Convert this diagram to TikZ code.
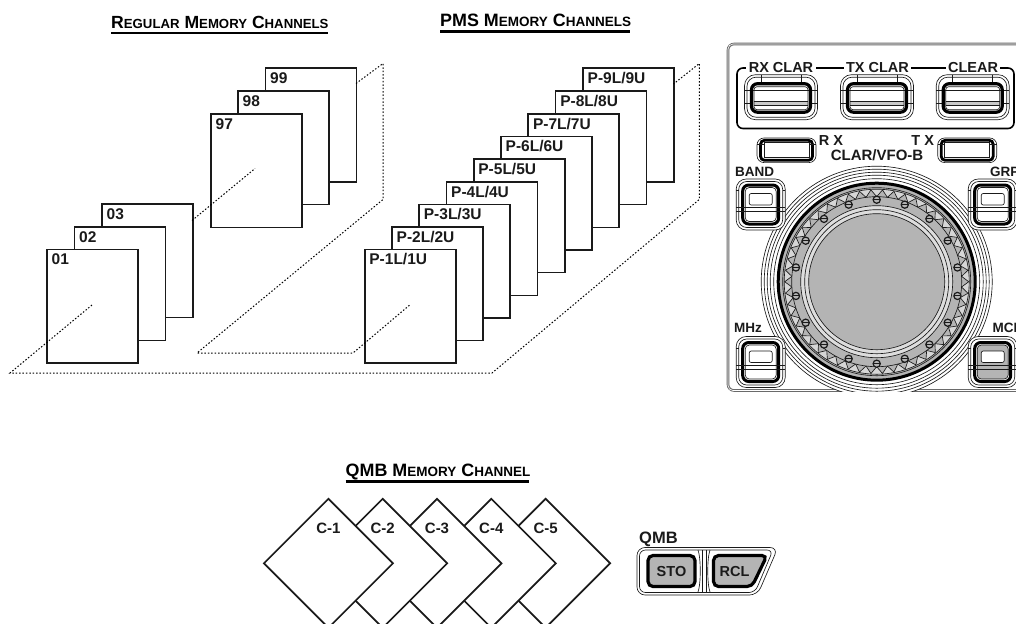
\documentclass[tikz,border=0pt]{standalone}
\usepackage{fontspec}
\setmainfont{Liberation Sans}
\usetikzlibrary{calc}
\definecolor{ink}{HTML}{1A1A1A}
\definecolor{btn}{HTML}{B4B4B4}
\tikzset{
  card/.style={draw=ink,fill=white,line width=1.8pt,minimum width=91pt,minimum height=113.5pt,inner sep=0pt,anchor=north west},
  cardtext/.style={anchor=north west,inner sep=0pt,font=\fontsize{15.5}{16}\bfseries,text=ink},
  diam/.style={draw=ink,fill=white,line width=1.7pt},
  dots/.style={line width=1pt,dash pattern=on 1.5pt off 1.9pt,draw=black},
  titlerule/.style={line width=2.2pt,draw=black},
  paneltext/.style={inner sep=0pt,font=\fontsize{14.5}{15}\bfseries,text=ink},
  keytext/.style={inner sep=0pt,anchor=west,font=\fontsize{13.5}{14}\bfseries,text=ink},
  thinline/.style={line width=0.65pt,draw=ink},
}
\newcommand{\capL}[1]{{\fontsize{\capA}{\capA}\selectfont #1}}
\newcommand{\capS}[1]{{\fontsize{\capB}{\capB}\selectfont #1}}
\newcommand{\bigbtn}[2]{%
  \draw[thinline,fill=white,rounded corners=11pt] (#1-36.5,#2-22.5) rectangle (#1+36.5,#2+22.5);
  \draw[thinline,rounded corners=9pt] (#1-34,#2-20) rectangle (#1+34,#2+20);
  \draw[thinline] (#1-36.5,#2-7) -- (#1+36.5,#2-7) (#1-36.5,#2+6) -- (#1-30,#2+6) (#1+30,#2+6) -- (#1+36.5,#2+6);
  \draw[thinline] (#1-20,#2-22.5) -- (#1-20,#2-13) (#1+20,#2-22.5) -- (#1+20,#2-13);
  \draw[line width=3.2pt,draw=black,rounded corners=6pt] (#1-29.5,#2-13.5) rectangle (#1+29.5,#2+15);
  \fill[btn!70!white] (#1-27,#2+4.5) rectangle (#1+27,#2+8);
  \draw[thinline] (#1-27,#2+4.5) -- (#1+27,#2+4.5) (#1-27,#2+8) -- (#1+27,#2+8);
  \draw[thinline,rounded corners=3pt] (#1-27,#2-10.5) rectangle (#1+27,#2+12.5);
}
\newcommand{\slimbtn}[2]{%
  \draw[thinline,fill=white,rounded corners=7pt] (#1-29.5,#2-12.3) rectangle (#1+29.5,#2+12.3);
  \draw[line width=2.8pt,draw=black,rounded corners=4pt] (#1-26,#2-10) rectangle (#1+26,#2+10);
  \draw[thinline] (#1-22.5,#2-7.5) rectangle (#1+22.5,#2+7.5);
  \draw[thinline] (#1-29.5,#2-6) -- (#1-22.5,#2-6) (#1+22.5,#2-6) -- (#1+29.5,#2-6);
}
\newcommand{\sqbtn}[3]{%
  \draw[thinline,fill=white,rounded corners=10pt] (#1-24.5,#2-25.5) rectangle (#1+24.5,#2+25.5);
  \draw[thinline,rounded corners=8pt] (#1-22,#2-23) rectangle (#1+22,#2+23);
  \draw[thinline] (#1-22,#2-14) -- (#1-24.5,#2-14) (#1+22,#2-14) -- (#1+24.5,#2-14);
  \draw[line width=3pt,draw=black,rounded corners=6pt] (#1-18,#2-19.5) rectangle (#1+18,#2+19.5);
  \draw[thinline,fill=#3,rounded corners=4pt] (#1-15.5,#2-17) rectangle (#1+15.5,#2+17);
  \fill[white,rounded corners=2pt] (#1-11.5,#2-11) rectangle (#1+11.5,#2+0.5);
  \draw[thinline,rounded corners=2pt] (#1-11.5,#2-11) rectangle (#1+11.5,#2+0.5);
  \draw[thinline] (#1-24.5,#2+3) -- (#1+24.5,#2+3) (#1-24.5,#2+7) -- (#1+24.5,#2+7);
}
\begin{document}
\begin{tikzpicture}[x=1pt,y=-1pt]
\useasboundingbox (0,0) rectangle (1016,623);
\fill[white] (0,0) rectangle (1016,623);

% ---- titles
\def\capA{17.6}\def\capB{13.2}
\node[anchor=base west,inner sep=0pt,font=\bfseries] (tReg) at (111,29) {\capL{R}\capS{EGULAR}\capL{ M}\capS{EMORY}\capL{ C}\capS{HANNELS}};
\draw[titlerule] (111,33) -- (328,33);
\def\capA{17.9}\def\capB{13.5}
\node[anchor=base west,inner sep=0pt,font=\bfseries] (tPms) at (440,26.5) {\capL{PMS M}\capS{EMORY}\capL{ C}\capS{HANNELS}};
\draw[titlerule] (440,31.5) -- (630,31.5);
\node[anchor=base west,inner sep=0pt,font=\bfseries] (tQmb) at (345.5,476.5) {\capL{QMB M}\capS{EMORY}\capL{ C}\capS{HANNEL}};
\draw[titlerule] (345.5,481.5) -- (529,481.5);

% ---- regular cards, far to near
\foreach \n/\x/\y in {03/101/203,02/73.5/226,01/46/248.5}{
  \node[card] (c\n) at (\x,\y) {};
  \node[cardtext] (l\n) at ($(c\n.north west)+(5.5,5)$) {\n};
}
\foreach \n/\x/\y in {99/264.5/67.5,98/237/90,97/210/113}{
  \node[card] (c\n) at (\x,\y) {};
  \node[cardtext] (l\n) at ($(c\n.north west)+(5.5,5)$) {\n};
}
% ---- PMS cards, far to near
\foreach \k/\x/\y in {9/582/67.5,8/554.6/90,7/527.3/113,6/500/135.5,5/472.7/158,4/445.5/181,3/418.2/203.5,2/391/226,1/363.7/248.5}{
  \node[card] (p\k) at (\x,\y) {};
  \node[cardtext] (lp\k) at ($(p\k.north west)+(5.5,5)$) {P-\k L/\k U};
}

% ---- dotted frames
\coordinate (a) at (10,373);
\coordinate (b) at (492,373);
\coordinate (c) at (699.3,199.5);
\coordinate (d) at (699.3,63.5);
\coordinate (e) at (673.5,84);
\coordinate (f) at (92,305);
\coordinate (g) at (192,220.5);
\coordinate (h) at (255,168.5);
\coordinate (i) at (356,83.5);
\coordinate (j) at (383,63.5);
\coordinate (k) at (383,199.5);
\coordinate (l) at (197,353);
\coordinate (m) at (353,353);
\coordinate (n) at (409.7,305);
\draw[dots] (f) -- (a) -- (b) -- (c) -- (d) -- (e);
\draw[dots] (g) -- (h);
\draw[dots] (i) -- (j) -- (k) -- (l) -- (m) -- (n);

% ---- QMB diamonds (clipped by the page)
\begin{scope}
\clip (0,0) rectangle (1016,623);
\foreach \k/\cx in {5/545.6,4/491.3,3/437,2/382.7,1/328.4}{
  \draw[diam] (\cx-64.5,563.3) -- (\cx,498.8) -- (\cx+64.5,563.3) -- (\cx,627.8) -- cycle;
  \node[inner sep=0pt,font=\fontsize{15}{15}\bfseries,text=ink] (cl\k) at (\cx,528.5) {C-\k};
}
\end{scope}

% ---- QMB button
\node[anchor=base west,inner sep=0pt,font=\fontsize{16.5}{17}\bfseries,text=ink] (qmb) at (639,543.5) {QMB};
\draw[thinline,fill=white,rounded corners=8pt] (637,547.5) -- (778,547.5) -- (757.5,595) -- (637,595) -- cycle;
\draw[thinline,rounded corners=6pt] (639.5,550) -- (773,550) -- (755,592.5) -- (639.5,592.5) -- cycle;
\draw[line width=3.2pt,draw=black,fill=btn,rounded corners=5pt] (648,555.5) rectangle (695,586.5);
\draw[line width=3.2pt,draw=black,fill=btn,rounded corners=5pt] (713.5,555.5) -- (767,555.5) -- (752,586.5) -- (713.5,586.5) -- cycle;
\draw[thinline] (698,550) .. controls (701,558) and (701,584) .. (698,592) (710,550) .. controls (707,558) and (707,584) .. (710,592);
\draw[thinline] (702,550) -- (702,592) (706,550) -- (706,592);
\node[inner sep=0pt,font=\fontsize{14.5}{15}\bfseries,text=ink] (sto) at (671.5,571.5) {STO};
\node[inner sep=0pt,font=\fontsize{14.5}{15}\bfseries,text=ink] (rcl) at (734.5,571.5) {RCL};

% ---- front panel, clipped at the right edge
\begin{scope}
\clip (700,0) rectangle (1016,623);
% frame
\draw[line width=2.6pt,draw=ink!65,rounded corners=6pt] (1030,390.5) -- (906,390.5) (848,390.5) -- (728,390.5) -- (728,44) -- (1030,44);
\draw[line width=0.6pt,draw=white,rounded corners=5pt] (1030,390.5) -- (906,390.5) (848,390.5) -- (728,390.5) -- (728,44) -- (1030,44);
% bracket
\draw[line width=1.6pt,draw=black,rounded corners=6pt] (737,68) -- (737,128.5) -- (1014,128.5) -- (1014,68) -- cycle;
\foreach \t/\x in {RX CLAR/781,TX CLAR/877.5,CLEAR/973}{
  \node[paneltext,fill=white,inner xsep=2.5pt,inner ysep=1pt] at (\x,68) {\t};
}
\bigbtn{781}{97.2}
\bigbtn{877}{97.2}
\bigbtn{972.7}{97.2}
\slimbtn{786.5}{150.3}
\slimbtn{967.2}{150.3}
\node[paneltext] (rxl) at (831,141) {R X};
\node[paneltext] (txl) at (922.7,141) {T X};
\node[inner sep=0pt,font=\fontsize{15}{15}\bfseries,text=ink] (cvb) at (877,155) {CLAR/VFO-B};
% dial
\begin{scope}
\clip (700,0) rectangle (1016,391.7);
\foreach \r in {115.5,112.5,109.5,106.5,103}{\draw[thinline,fill=white] (876.7,281.7) circle[radius=\r];}
\end{scope}
\fill[btn] (876.7,281.7) circle[radius=99];
\draw[line width=3pt,draw=black] (876.7,281.7) circle[radius=98.5];
\draw[thinline,fill=btn] (876.7,281.7) circle[radius=94];
\draw[thinline,fill=btn!55!white] (876.7,281.7) circle[radius=92.5];
\draw[thinline,fill=btn] (876.7,366.7) \foreach \a in {0,7.2,...,352.8}{ -- ({876.7+sin(\a)*85},{281.7+cos(\a)*85}) -- ({876.7+sin(\a+3.6)*92},{281.7+cos(\a+3.6)*92})} -- cycle;
\draw[thinline,fill=btn] (876.7,281.7) circle[radius=85];
\draw[thinline,fill=btn!45!white] (876.7,281.7) circle[radius=76];
\draw[thinline] (876.7,281.7) circle[radius=72];
\draw[thinline,fill=btn] (876.7,281.7) circle[radius=68];
\foreach \a in {10,30,...,350}{
  \draw[line width=1.2pt,draw=ink,fill=btn] ({876.7+82*cos(\a)},{281.7+82*sin(\a)}) circle[radius=3.6];
  \fill[ink] ({876.7+82*cos(\a)-3},{281.7+82*sin(\a)-0.5}) rectangle ++(6,1);
}
% square buttons
\sqbtn{760.7}{204.5}{white}
\sqbtn{992.7}{204.5}{white}
\sqbtn{760.7}{362}{white}
\sqbtn{992.7}{362}{btn}
\node[keytext] (band) at (735,172) {BAND};
\node[keytext] (grp) at (990,172) {GRP};
\node[keytext] (mhz) at (734,328) {MHz};
\node[keytext] (mch) at (992.5,328) {MCH};
\end{scope}
\end{tikzpicture}
\end{document}
